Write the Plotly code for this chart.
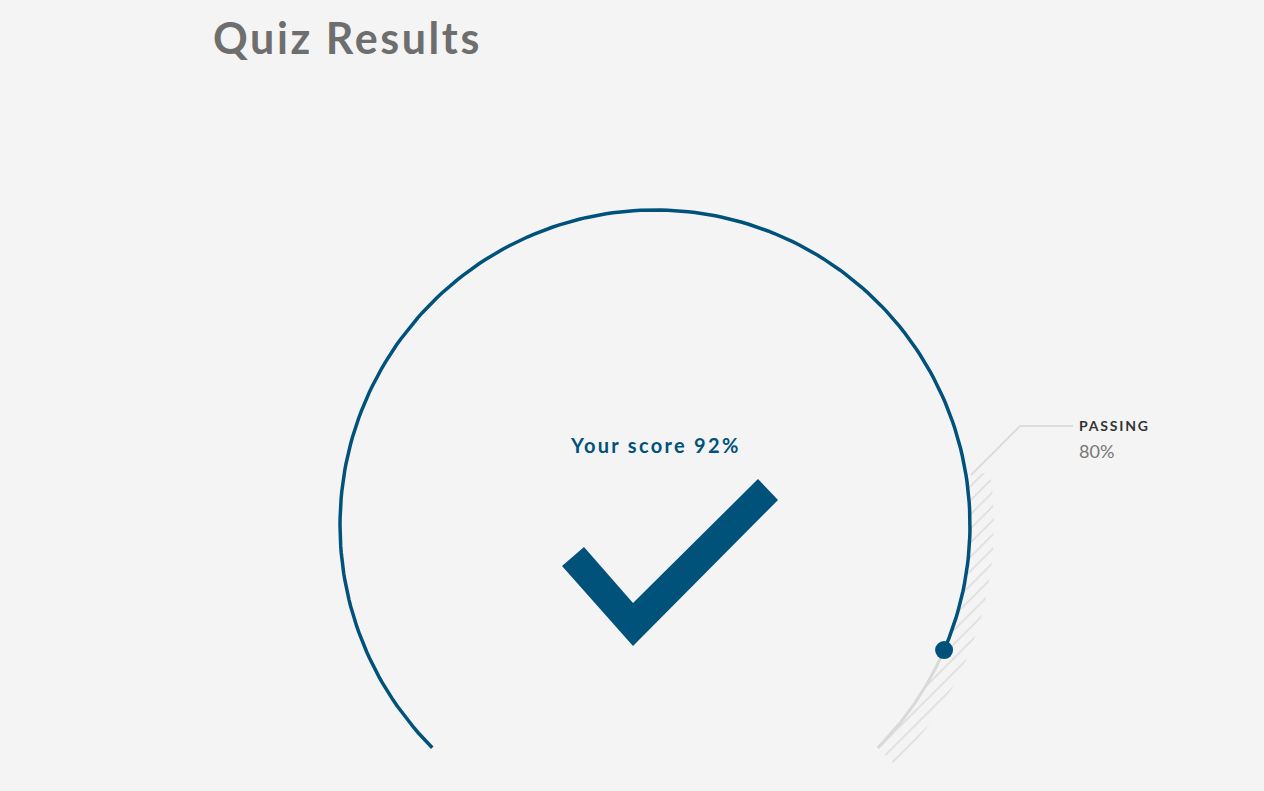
import numpy as np
import plotly.graph_objects as go

# ---- data ----
score = 92          # percent
passing = 80        # percent
gauge_min, gauge_max = 0, 100
title_text = "Quiz Results"
score_label = "Your score"
passing_label = "PASSING"

# ---- geometry / style ----
W, H = 1264, 791
CX, CY, R = 655, 525, 315
START_DEG, SWEEP_DEG = 225, 270
BLUE = "#01527a"
BG = "#f4f4f4"


def ang(v):
    return np.deg2rad(START_DEG - (v - gauge_min) / (gauge_max - gauge_min) * SWEEP_DEG)


def arc(v0, v1, r, n=200):
    t = np.linspace(ang(v0), ang(v1), n)
    return CX + r * np.cos(t), CY - r * np.sin(t)


fig = go.Figure()

# hatched passing band
xo, yo = arc(passing, gauge_max, R + 24)
xi, yi = arc(passing, gauge_max, R - 1)
fig.add_trace(go.Scatter(
    x=np.concatenate([xo, xi[::-1]]), y=np.concatenate([yo, yi[::-1]]),
    fill="toself", mode="lines", line=dict(width=0, color="rgba(0,0,0,0)"),
    fillcolor="rgba(0,0,0,0)",
    fillpattern=dict(shape="/", fgcolor="#c6c6c6", bgcolor="rgba(0,0,0,0)", size=10, solidity=0.16),
    hoverinfo="skip", showlegend=False))

# gray remaining track
xg, yg = arc(score, gauge_max, R)
fig.add_trace(go.Scatter(x=xg, y=yg, mode="lines", line=dict(color="#d9d9d9", width=3),
                         hoverinfo="skip", showlegend=False))

# score arc
xs, ys = arc(gauge_min, score, R)
fig.add_trace(go.Scatter(x=xs, y=ys, mode="lines", line=dict(color=BLUE, width=3.5),
                         hoverinfo="skip", showlegend=False))

# score end dot
fig.add_trace(go.Scatter(x=[xs[-1]], y=[ys[-1]], mode="markers",
                         marker=dict(color=BLUE, size=18, line=dict(width=0)),
                         hoverinfo="skip", showlegend=False))

# passing leader line
a = ang(passing)
px0, py0 = CX + (R + 5) * np.cos(a), CY - (R + 5) * np.sin(a)
elbow_x, elbow_y = px0 + 49, py0 - 49
fig.add_trace(go.Scatter(x=[px0, elbow_x, elbow_x + 53], y=[py0, elbow_y, elbow_y],
                         mode="lines", line=dict(color="#dcdcdc", width=2),
                         hoverinfo="skip", showlegend=False))

fig.add_annotation(x=elbow_x + 57, y=elbow_y, xref="x", yref="y", xanchor="left", yanchor="middle",
                   text=f'<span style="letter-spacing:1.8px">{passing_label}</span>',
                   showarrow=False, font=dict(family="Lato", size=14, color="#333333", weight=700))
fig.add_annotation(x=elbow_x + 57, y=elbow_y + 25, xref="x", yref="y", xanchor="left", yanchor="middle",
                   text=f"{passing}%", showarrow=False,
                   font=dict(family="Lato", size=18, color="#777777"))

# score text
fig.add_annotation(x=CX, y=CY - 80, xref="x", yref="y", xanchor="center", yanchor="middle",
                   text=f'<span style="letter-spacing:2.3px">{score_label} {score}%</span>',
                   showarrow=False, font=dict(family="Lato", size=20, color=BLUE, weight=700))

# checkmark icon
check_x = [562, 584, 633, 758, 778, 633]
check_y = [566, 547, 603, 479, 500, 646]
fig.add_trace(go.Scatter(x=check_x + [check_x[0]], y=check_y + [check_y[0]], fill="toself",
                         mode="lines", line=dict(width=0, color=BLUE), fillcolor=BLUE,
                         hoverinfo="skip", showlegend=False))

# title
fig.add_annotation(x=211, y=37, xref="x", yref="y", xanchor="left", yanchor="middle",
                   text=f'<span style="letter-spacing:2.6px">{title_text}</span>', showarrow=False,
                   font=dict(family="Lato", size=43, color="#6e6e6e", weight=700))

fig.update_layout(
    width=W, height=H, autosize=False,
    margin=dict(l=0, r=0, t=0, b=0),
    paper_bgcolor=BG, plot_bgcolor=BG,
    xaxis=dict(range=[0, W], visible=False, fixedrange=True),
    yaxis=dict(range=[H, 0], visible=False, fixedrange=True),
    showlegend=False,
)

fig.write_html("out.html", config={"displayModeBar": False})
